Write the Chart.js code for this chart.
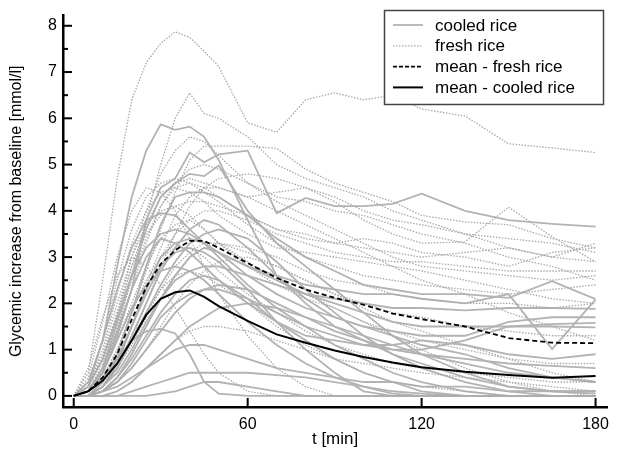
<!DOCTYPE html>
<html>
<head>
<meta charset="utf-8">
<title>Glycemic response</title>
<script src="https://cdn.jsdelivr.net/npm/chart.js@4.4.1/dist/chart.umd.min.js"></script>
<style>
  html, body { margin: 0; padding: 0; background: #fff; }
  canvas { display: block; }
</style>
</head>
<body>
<canvas id="glucoseChart" width="617" height="458"></canvas>
<script>
// sampling times [min]
var minutes = [0, 5, 10, 15, 20, 25, 30, 35, 40, 45, 50, 60, 70, 80, 90, 100, 110, 120, 135, 150, 165, 180];

// individual subjects - cooled rice (solid gray)
var cooledSubjects = [
  [0, 0.2, 1.2, 2.8, 4.3, 5.3, 5.87, 5.75, 5.82, 5.6, 5.1, 3.8, 2.6, 2.0, 1.5, 1.2, 0.9, 0.7, 0.4, 0.2, 0.1, 0.1],
  [0, 0.1, 0.5, 1.3, 2.3, 3.8, 4.5, 4.7, 5.26, 5.05, 5.22, 5.3, 3.95, 4.28, 4.1, 4.1, 4.15, 4.37, 4.0, 3.8, 3.72, 3.66],
  [0, 0.1, 0.6, 1.6, 2.6, 3.6, 4.3, 4.6, 4.8, 4.75, 4.98, 4.0, 3.3, 2.8, 2.3, 1.8, 1.3, 0.9, 0.5, 0.2, 0.1, 0.05],
  [0, 0, 0.3, 0.9, 1.8, 2.8, 3.7, 4.3, 4.4, 4.4, 4.3, 3.9, 3.4, 3.0, 2.7, 2.4, 2.3, 2.2, 2.2, 2.12, 2.48, 2.09],
  [0, 0, 0.2, 0.7, 1.5, 2.3, 3.0, 3.3, 3.4, 3.3, 3.1, 2.8, 2.6, 2.4, 2.3, 2.2, 2.2, 2.1, 2.0, 2.2, 1.01, 2.08],
  [0, 0, 0.1, 0.4, 0.9, 1.5, 2.1, 2.6, 3.0, 3.2, 3.1, 2.8, 2.5, 2.2, 2.0, 1.8, 1.6, 1.5, 1.5, 1.5, 1.5, 1.48],
  [0, 0.1, 0.5, 1.2, 1.9, 2.4, 2.7, 2.8, 2.7, 2.5, 2.2, 1.6, 1.1, 0.7, 0.4, 0.2, 0.05, 0, 0, 0, 0, 0],
  [0, 0.1, 0.4, 0.8, 1.2, 1.4, 1.45, 1.35, 0.9, 0.3, 0.05, 0, 0, 0, 0, 0, 0, 0, 0, 0, 0, 0],
  [0, 0, 0, 0.1, 0.3, 0.6, 0.9, 1.2, 1.5, 1.7, 1.9, 2.0, 1.9, 1.7, 1.5, 1.3, 1.1, 0.9, 0.7, 0.5, 0.4, 0.3],
  [0, 0, 0, 0, 0.1, 0.2, 0.3, 0.4, 0.5, 0.5, 0.5, 0.5, 0.45, 0.4, 0.3, 0.2, 0.1, 0.05, 0, 0, 0, 0],
  [0, 0, 0.2, 0.6, 1.2, 1.8, 2.4, 2.9, 3.3, 3.5, 3.6, 3.4, 2.9, 2.3, 1.8, 1.3, 0.9, 0.6, 0.3, 0.1, 0, 0],
  [0, 0.3, 1.2, 2.3, 3.2, 3.8, 3.95, 3.9, 3.6, 3.3, 3.0, 2.4, 1.9, 1.5, 1.1, 0.8, 0.5, 0.3, 0.1, 0, 0, 0],
  [0, 0, 0.1, 0.3, 0.7, 1.2, 1.7, 2.0, 2.2, 2.3, 2.3, 2.1, 1.8, 1.5, 1.3, 1.1, 1.0, 1.0, 1.2, 1.5, 1.55, 1.58],
  [0, 0, 0.2, 0.5, 1.0, 1.6, 2.1, 2.5, 2.7, 2.8, 2.8, 2.6, 2.4, 2.2, 2.1, 2.0, 1.9, 1.9, 1.85, 1.9, 1.9, 1.88],
  [0, 0, 0, 0, 0, 0, 0.05, 0.1, 0.2, 0.3, 0.3, 0.2, 0.1, 0, 0, 0, 0, 0, 0, 0, 0, 0],
  [0, 0, 0.1, 0.3, 0.6, 1.0, 1.4, 1.8, 2.1, 2.3, 2.4, 2.3, 2.0, 1.7, 1.4, 1.2, 1.0, 0.9, 0.8, 0.7, 0.65, 0.6],
  [0, 0, 0.3, 0.8, 1.5, 2.2, 2.8, 3.1, 3.2, 3.1, 2.9, 2.3, 1.6, 1.0, 0.5, 0.1, 0, 0, 0, 0, 0, 0],
  [0, 0, 0.1, 0.4, 0.8, 1.3, 1.8, 2.2, 2.5, 2.6, 2.5, 2.1, 1.6, 1.2, 0.8, 0.5, 0.3, 0.1, 0, 0, 0, 0],
  [0, 0.2, 0.8, 1.7, 2.6, 3.2, 3.5, 3.6, 3.5, 3.3, 3.1, 2.6, 2.2, 1.9, 1.7, 1.5, 1.3, 1.1, 0.9, 0.6, 0.4, 0.3],
  [0, 0, 0.1, 0.2, 0.4, 0.6, 0.8, 1.0, 1.1, 1.1, 1.0, 0.8, 0.6, 0.5, 0.4, 0.3, 0.3, 0.2, 0.2, 0.1, 0.1, 0.1],
  [0, 0.1, 0.6, 1.4, 2.3, 3.0, 3.4, 3.3, 3.1, 2.8, 2.5, 2.0, 1.6, 1.3, 1.2, 1.1, 1.1, 1.2, 1.1, 0.9, 0.8, 0.9],
  [0, 0, 0.2, 0.6, 1.3, 2.0, 2.7, 3.2, 3.6, 3.8, 3.7, 3.2, 2.6, 2.1, 1.7, 1.5, 1.4, 1.3, 1.3, 1.6, 1.7, 1.7]
];

// individual subjects - fresh rice (dotted gray)
var freshSubjects = [
  [0, 0.5, 2.5, 4.7, 6.4, 7.2, 7.62, 7.87, 7.75, 7.45, 7.12, 5.9, 5.7, 6.4, 6.55, 6.4, 6.5, 6.2, 6.05, 5.45, 5.36, 5.26],
  [0, 0.1, 0.5, 1.4, 2.6, 3.8, 5.0, 6.0, 6.55, 6.1, 6.0, 5.6, 5.0, 4.7, 4.5, 4.3, 4.0, 3.8, 3.5, 3.2, 3.0, 2.9],
  [0, 0.1, 0.4, 1.0, 1.8, 2.7, 3.6, 4.4, 5.1, 5.4, 5.4, 5.4, 5.35, 4.9, 4.6, 4.4, 4.2, 3.9, 3.76, 3.7, 3.4, 3.2],
  [0, 0, 0.2, 0.6, 1.2, 2.0, 2.8, 3.5, 4.1, 4.5, 4.7, 4.8, 4.7, 4.5, 4.2, 3.8, 3.5, 3.3, 3.33, 4.08, 3.44, 2.9],
  [0, 0.2, 0.8, 1.8, 3.0, 4.0, 4.8, 5.3, 5.6, 5.5, 5.2, 4.6, 4.2, 3.9, 3.6, 3.3, 3.0, 2.8, 2.7, 2.6, 2.5, 2.6],
  [0, 0.1, 0.6, 1.5, 2.5, 3.4, 4.1, 4.5, 4.6, 4.5, 4.3, 3.9, 3.6, 3.5, 3.3, 3.2, 3.1, 3.0, 3.1, 3.2, 3.0, 3.3],
  [0, 0.4, 1.6, 3.0, 4.0, 4.5, 4.4, 4.0, 3.4, 2.8, 2.2, 1.3, 0.6, 0.2, 0, 0, 0, 0, 0, 0, 0, 0],
  [0, 0.2, 0.9, 2.0, 3.0, 3.7, 4.0, 4.1, 3.9, 3.6, 3.3, 2.8, 2.4, 2.1, 1.9, 1.6, 1.3, 1.0, 0.6, 0.3, 0.1, 0],
  [0, 0, 0.3, 0.8, 1.5, 2.3, 3.0, 3.5, 3.8, 4.0, 4.0, 3.8, 3.5, 3.3, 3.1, 3.0, 2.9, 2.9, 2.8, 2.7, 2.7, 2.7],
  [0, 0.1, 0.4, 1.0, 1.8, 2.5, 3.0, 3.2, 3.2, 3.0, 2.7, 2.2, 1.8, 1.4, 1.1, 0.9, 0.7, 0.6, 0.5, 0.4, 0.3, 0.3],
  [0, 0.1, 0.5, 1.3, 2.3, 3.3, 4.1, 4.6, 4.9, 5.0, 4.9, 4.6, 4.3, 4.2, 4.0, 3.9, 3.7, 3.5, 3.3, 3.0, 2.8, 2.5],
  [0, 0, 0.2, 0.6, 1.1, 1.7, 2.3, 2.8, 3.1, 3.3, 3.3, 3.1, 2.8, 2.5, 2.2, 2.0, 1.8, 1.7, 1.5, 1.4, 1.3, 1.3],
  [0, 0.6, 1.7, 2.6, 3.0, 2.8, 2.4, 1.9, 1.4, 0.9, 0.5, 0.1, 0, 0, 0, 0, 0, 0, 0, 0, 0, 0],
  [0, 0, 0.1, 0.4, 0.9, 1.5, 2.1, 2.6, 3.0, 3.2, 3.3, 3.2, 3.0, 2.7, 2.5, 2.4, 2.2, 2.1, 2.0, 2.0, 1.9, 2.0],
  [0, 0, 0, 0.1, 0.3, 0.6, 0.9, 1.2, 1.4, 1.5, 1.5, 1.4, 1.2, 1.0, 0.8, 0.7, 0.6, 0.5, 0.4, 0.3, 0.2, 0.1],
  [0, 0.1, 0.7, 1.7, 2.8, 3.7, 4.3, 4.6, 4.7, 4.6, 4.5, 4.3, 4.4, 4.5, 4.3, 4.0, 3.8, 3.7, 3.5, 3.4, 3.3, 3.1],
  [0, 0.2, 0.8, 1.8, 2.8, 3.5, 3.9, 4.1, 4.2, 4.2, 4.1, 3.9, 3.6, 3.4, 3.3, 3.4, 3.3, 3.1, 3.0, 2.8, 3.1, 3.2],
  [0, 0.1, 0.5, 1.2, 2.0, 2.8, 3.4, 3.7, 3.8, 3.6, 3.3, 2.9, 2.5, 2.2, 1.9, 1.6, 1.4, 1.2, 1.0, 0.8, 0.7, 0.7],
  [0, 0.3, 1.2, 2.5, 3.6, 4.3, 4.6, 4.7, 4.6, 4.4, 4.2, 3.7, 3.3, 3.0, 2.8, 2.6, 2.5, 2.4, 2.3, 2.2, 2.3, 2.4],
  [0, 0, 0.2, 0.7, 1.5, 2.4, 3.2, 3.9, 4.3, 4.5, 4.5, 4.3, 4.0, 3.7, 3.4, 3.1, 2.8, 2.5, 2.2, 1.8, 1.5, 1.2],
  [0, 0.1, 0.3, 0.7, 1.2, 1.8, 2.3, 2.6, 2.7, 2.6, 2.4, 2.0, 1.5, 1.1, 0.8, 0.5, 0.3, 0.2, 0.1, 0, 0, 0],
  [0, 0.2, 1.0, 2.2, 3.3, 4.0, 4.4, 4.5, 4.4, 4.2, 3.9, 3.5, 3.2, 3.1, 3.0, 2.9, 2.8, 2.7, 2.5, 2.3, 2.1, 2.0],
  [0, 0, 0.1, 0.3, 0.6, 1.0, 1.5, 2.0, 2.4, 2.7, 2.9, 3.0, 2.8, 2.5, 2.2, 1.9, 1.6, 1.4, 1.1, 0.8, 0.5, 0.3]
];

var meanFresh = [0, 0.1, 0.4, 0.9, 1.65, 2.35, 2.85, 3.15, 3.35, 3.35, 3.2, 2.87, 2.55, 2.3, 2.12, 1.97, 1.78, 1.66, 1.5, 1.25, 1.15, 1.14];
var meanCooled = [0, 0.1, 0.33, 0.7, 1.2, 1.75, 2.1, 2.24, 2.28, 2.14, 1.94, 1.62, 1.33, 1.15, 0.98, 0.84, 0.72, 0.62, 0.52, 0.45, 0.39, 0.43];

var xTicks = [0, 60, 120, 180];
var yTicks = [0, 1, 2, 3, 4, 5, 6, 7, 8];
var yMinorTicks = [0.5, 1.5, 2.5, 3.5, 4.5, 5.5, 6.5, 7.5];

var FONT = '"Liberation Sans", Arial, sans-serif';
var GRAY = '#b3b3b3';

function toPoints(values) {
  return values.map(function (v, i) { return { x: minutes[i], y: v }; });
}

var datasets = [];
cooledSubjects.forEach(function (s) {
  datasets.push({ label: 'cooled rice', data: toPoints(s), borderColor: GRAY, borderWidth: 1.8, order: 3 });
});
freshSubjects.forEach(function (s) {
  datasets.push({ label: 'fresh rice', data: toPoints(s), borderColor: '#a9a9a9', borderWidth: 1.3, borderDash: [1.5, 1.5], order: 2 });
});
datasets.push({ label: 'mean - fresh rice', data: toPoints(meanFresh), borderColor: '#000', borderWidth: 1.8, borderDash: [5, 3], order: 1 });
datasets.push({ label: 'mean - cooled rice', data: toPoints(meanCooled), borderColor: '#000', borderWidth: 2, order: 0 });

// inward tick marks on both axes
var innerTicks = {
  id: 'innerTicks',
  afterDraw: function (chart) {
    var ctx = chart.ctx, a = chart.chartArea;
    var xs = chart.scales.x, ys = chart.scales.y;
    ctx.save();
    ctx.strokeStyle = '#000';
    ctx.lineWidth = 2;
    yTicks.forEach(function (v) {
      var p = ys.getPixelForValue(v);
      ctx.beginPath(); ctx.moveTo(a.left, p); ctx.lineTo(a.left + 9, p); ctx.stroke();
    });
    yMinorTicks.forEach(function (v) {
      var p = ys.getPixelForValue(v);
      ctx.beginPath(); ctx.moveTo(a.left, p); ctx.lineTo(a.left + 5, p); ctx.stroke();
    });
    xTicks.forEach(function (v) {
      var p = xs.getPixelForValue(v);
      ctx.beginPath(); ctx.moveTo(p, a.bottom); ctx.lineTo(p, a.bottom - 9); ctx.stroke();
    });
    ctx.restore();
  }
};

// boxed legend in the top right corner
var boxLegend = {
  id: 'boxLegend',
  afterDraw: function (chart) {
    var ctx = chart.ctx;
    var items = [
      { text: 'cooled rice', color: GRAY, width: 1.8, dash: [] },
      { text: 'fresh rice', color: '#a9a9a9', width: 1.3, dash: [1.5, 1.5] },
      { text: 'mean - fresh rice', color: '#000', width: 1.8, dash: [4, 2] },
      { text: 'mean - cooled rice', color: '#000', width: 2, dash: [] }
    ];
    ctx.save();
    ctx.fillStyle = '#fff';
    ctx.fillRect(384, 10, 219, 94);
    ctx.strokeStyle = '#444';
    ctx.lineWidth = 1.5;
    ctx.strokeRect(384.5, 10.5, 219, 94);
    ctx.font = '17px ' + FONT;
    ctx.textBaseline = 'middle';
    items.forEach(function (it, i) {
      var y = 25 + i * 20.8;
      ctx.strokeStyle = it.color;
      ctx.lineWidth = it.width;
      ctx.setLineDash(it.dash);
      ctx.beginPath(); ctx.moveTo(393, y); ctx.lineTo(423, y); ctx.stroke();
      ctx.setLineDash([]);
      ctx.fillStyle = '#000';
      ctx.fillText(it.text, 435, y + 1);
    });
    ctx.restore();
  }
};

new Chart(document.getElementById('glucoseChart'), {
  type: 'line',
  data: { datasets: datasets },
  options: {
    responsive: false,
    animation: false,
    events: [],
    layout: { padding: { top: 12, right: 4, left: 0, bottom: 0 } },
    elements: { point: { radius: 0 }, line: { tension: 0, fill: false } },
    plugins: { legend: { display: false }, tooltip: { enabled: false } },
    scales: {
      x: {
        type: 'linear',
        min: -3.7,
        max: 184,
        afterBuildTicks: function (scale) { scale.ticks = xTicks.map(function (v) { return { value: v }; }); },
        afterFit: function (scale) { scale.height = 51; },
        grid: { display: false, drawTicks: false },
        border: { display: true, color: '#000', width: 2.5 },
        ticks: { color: '#000', font: { family: FONT, size: 16 }, padding: 8, maxRotation: 0 },
        title: { display: true, text: 't [min]', color: '#000', font: { family: FONT, size: 17 }, padding: { top: 0, bottom: 8 } }
      },
      y: {
        type: 'linear',
        min: -0.24,
        max: 8.22,
        afterBuildTicks: function (scale) { scale.ticks = yTicks.map(function (v) { return { value: v }; }); },
        afterFit: function (scale) { scale.width = 63; },
        grid: { display: false, drawTicks: false },
        border: { display: true, color: '#000', width: 2.5 },
        ticks: { color: '#000', font: { family: FONT, size: 16 }, padding: 6 },
        title: { display: true, text: 'Glycemic increase from baseline [mmol/l]', color: '#000', font: { family: FONT, size: 16 }, padding: { top: 7, bottom: 0 } }
      }
    }
  },
  plugins: [innerTicks, boxLegend]
});
</script>
</body>
</html>
